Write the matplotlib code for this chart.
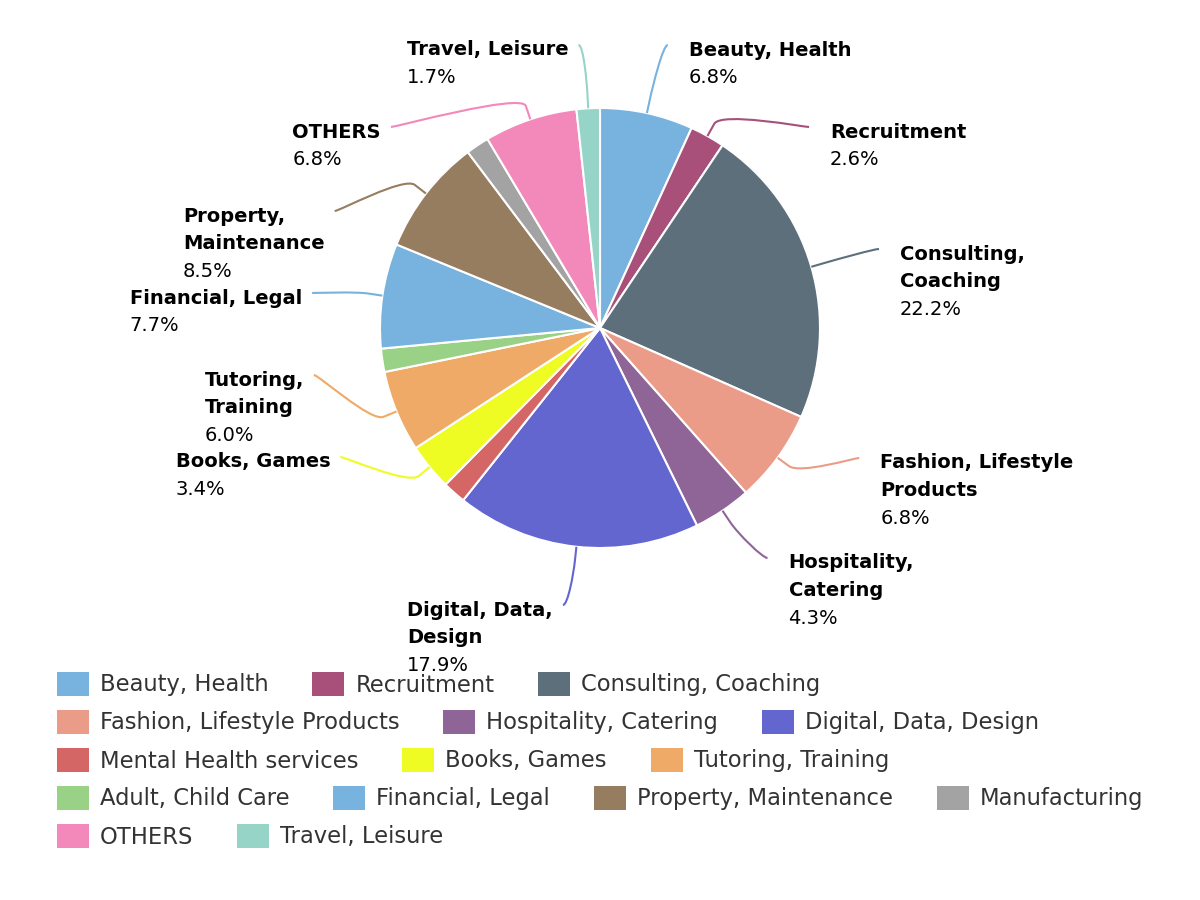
import matplotlib
matplotlib.use("Agg")
import matplotlib.pyplot as plt
from matplotlib.path import Path
from matplotlib.patches import PathPatch, Rectangle
import numpy as np

# sector shares (counts), clockwise from 12 o'clock
sectors = ["Beauty, Health", "Recruitment", "Consulting, Coaching",
           "Fashion, Lifestyle Products", "Hospitality, Catering",
           "Digital, Data, Design", "Mental Health services", "Books, Games",
           "Tutoring, Training", "Adult, Child Care", "Financial, Legal",
           "Property, Maintenance", "Manufacturing", "OTHERS", "Travel, Leisure"]
counts = [8, 3, 26, 8, 5, 21, 2, 4, 7, 2, 9, 10, 2, 8, 2]
colors = ["#78b2de", "#a8507a", "#5e6f7c", "#eb9c89", "#8e6596",
          "#6366cf", "#d46666", "#eefc24", "#eeaa66", "#99d186",
          "#78b2de", "#967d60", "#a3a3a3", "#f388ba", "#96d4c8"]

# data labels as wrapped in the chart, None = label hidden (overlap)
label_lines = [["Beauty, Health"], ["Recruitment"], ["Consulting,", "Coaching"],
               ["Fashion, Lifestyle", "Products"], ["Hospitality,", "Catering"],
               ["Digital, Data,", "Design"], None, ["Books, Games"],
               ["Tutoring,", "Training"], None, ["Financial, Legal"],
               ["Property,", "Maintenance"], None, ["OTHERS"], ["Travel, Leisure"]]
# vertical spot (px from top) where each connector meets its label
label_y = [45, 127, 249, 458, 558, 605, None, 457, 375, None, 293, 211, None, 127, 45]
# legend items per row, as wrapped in the original
legend_rows = [3, 3, 3, 4, 2]

W, H = 1200, 900
CX, CY = 600, 328      # pie centre, px from top
R = 220
LABEL_R = 290
BREAK = 14
LINE_H = 27.6
LBL_FS = 14
LEG_FS = 16.3

fig = plt.figure(figsize=(12, 9), dpi=100)
ax = fig.add_axes([0, 0, 1, 1])

wedges, _ = ax.pie(counts, colors=colors, startangle=90, counterclock=False,
                   center=(CX, H - CY), radius=R,
                   wedgeprops=dict(edgecolor="white", linewidth=1.5))
ax.set_xlim(0, W)
ax.set_ylim(0, H)
ax.set_aspect("equal")
ax.axis("off")

renderer = fig.canvas.get_renderer()
total = sum(counts)
cy_d = H - CY

for i, w in enumerate(wedges):
    if label_lines[i] is None:
        continue
    ang = np.deg2rad((w.theta1 + w.theta2) / 2)
    ux, uy = np.cos(ang), np.sin(ang)
    side = 1 if ux >= 0 else -1
    tx, ty = CX + R * ux, cy_d + R * uy
    bx, by = CX + (R + BREAK) * ux, cy_d + (R + BREAK) * uy
    ly = H - label_y[i]
    dy = ly - cy_d
    if abs(dy) < 0.75 * LABEL_R:
        lx = CX + side * np.sqrt(LABEL_R ** 2 - dy ** 2)
    else:
        lx = CX + LABEL_R * ux + side * 6

    verts = [(lx, ly), (lx - side * 5, ly), (2 * bx - tx, 2 * by - ty), (bx, by), (tx, ty)]
    codes = [Path.MOVETO, Path.CURVE4, Path.CURVE4, Path.CURVE4, Path.LINETO]
    ax.add_patch(PathPatch(Path(verts, codes), fill=False, edgecolor=colors[i], lw=1.5))

    pct = f"{counts[i] / total * 100:.1f}%"
    lines = [(s, "bold") for s in label_lines[i]] + [(pct, "normal")]
    texts = []
    for k, (s, fw) in enumerate(lines):
        yy = H - (label_y[i] + 5 + k * LINE_H)
        texts.append(ax.text(0, yy, s, fontsize=LBL_FS, fontweight=fw,
                             color="black", ha="left", va="center"))
    if side > 0:
        x0 = lx + 21
    else:
        bw = max(t.get_window_extent(renderer).width for t in texts)
        x0 = lx - 10 - bw
    for t in texts:
        t.set_x(x0)

# legend, rows like the original, box centred
SW_W, SW_H = 32, 23.4
TXT_OFF = 43
GAP = 44
items = []
for name in sectors:
    t = ax.text(0, 0, name, fontsize=LEG_FS, color="#333333", ha="left", va="center")
    items.append((t, TXT_OFF + t.get_window_extent(renderer).width))

rows, start = [], 0
for n in legend_rows:
    idxs = list(range(start, start + n))
    rows.append((idxs, sum(items[j][1] for j in idxs) + GAP * (n - 1)))
    start += n

box_w = max(rw for _, rw in rows)
left = (W - box_w) / 2
for r_i, (row, _) in enumerate(rows):
    yc = 684 + r_i * 38
    x = left
    for idx in row:
        t, iw = items[idx]
        ax.add_patch(Rectangle((x, H - yc - SW_H / 2), SW_W, SW_H,
                               facecolor=colors[idx], edgecolor="none"))
        t.set_position((x + TXT_OFF, H - yc - 1))
        x += iw + GAP

fig.savefig("out.png", dpi=100, facecolor="white")
